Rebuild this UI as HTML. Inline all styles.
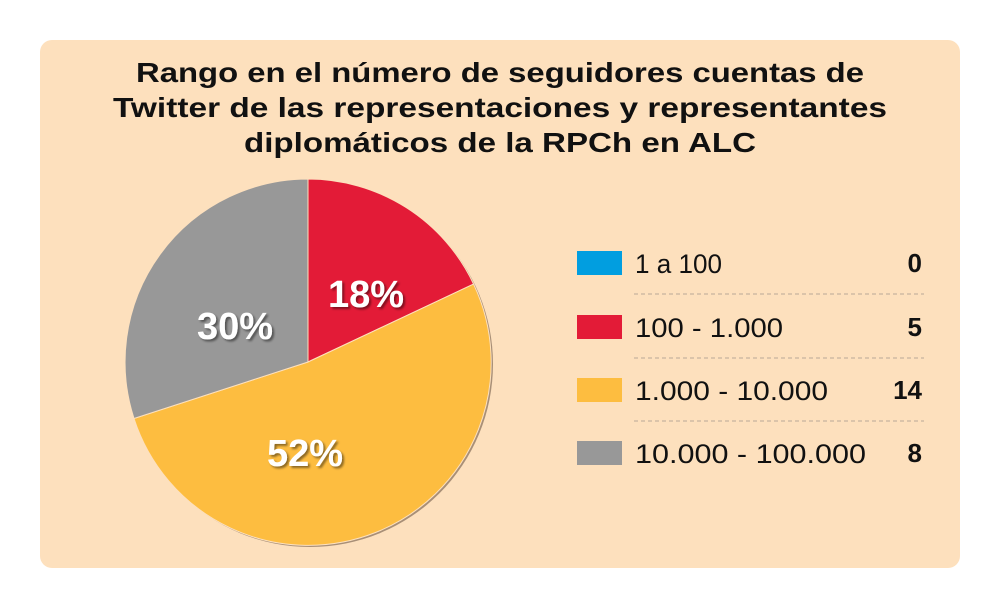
<!DOCTYPE html>
<html><head><meta charset="utf-8"><style>
html,body{margin:0;padding:0;background:#fff;}
svg{display:block;font-family:"Liberation Sans",sans-serif;}
</style></head><body>
<svg width="1000" height="608" viewBox="0 0 1000 608" xmlns="http://www.w3.org/2000/svg">
<defs>
<filter id="ts" x="-20%" y="-20%" width="140%" height="140%"><feDropShadow dx="2" dy="2" stdDeviation="1" flood-color="#000" flood-opacity="0.45"/></filter>
</defs>
<rect x="40" y="40" width="920" height="528" rx="12" fill="#fde0bd"/>
<g font-weight="bold" font-size="28" fill="#111" text-anchor="middle">
<text x="500" y="82" textLength="728" lengthAdjust="spacingAndGlyphs">Rango en el número de seguidores cuentas de</text>
<text x="500" y="117" textLength="774" lengthAdjust="spacingAndGlyphs">Twitter de las representaciones y representantes</text>
<text x="500" y="152" textLength="512" lengthAdjust="spacingAndGlyphs">diplomáticos de la RPCh en ALC</text>
</g>
<circle cx="310" cy="364" r="183" fill="#a88f77"/>
<path d="M308,362 L308,179 A183,183 0 0,1 473.6,284.1 Z" fill="#e31b37" stroke="#fde0bd" stroke-width="1"/>
<path d="M308,362 L473.6,284.1 A183,183 0 1,1 134,418.5 Z" fill="#fdbd40" stroke="#fde0bd" stroke-width="1"/>
<path d="M308,362 L134,418.5 A183,183 0 0,1 308,179 Z" fill="#989898" stroke="#fde0bd" stroke-width="1"/>
<g font-weight="bold" font-size="38" fill="#fff" text-anchor="middle" filter="url(#ts)">
<text x="366" y="307">18%</text>
<text x="235" y="339">30%</text>
<text x="305" y="466">52%</text>
</g>
<rect x="577" y="251" width="45" height="24" fill="#019ee0"/>
<rect x="577" y="315" width="45" height="24" fill="#e31b37"/>
<rect x="577" y="378" width="45" height="24" fill="#fdbd40"/>
<rect x="577" y="441" width="45" height="24" fill="#989898"/>
<g font-size="27" fill="#111">
<text x="635" y="273" textLength="87" lengthAdjust="spacingAndGlyphs">1 a 100</text>
<text x="635" y="337" textLength="148" lengthAdjust="spacingAndGlyphs">100 - 1.000</text>
<text x="635" y="400" textLength="193" lengthAdjust="spacingAndGlyphs">1.000 - 10.000</text>
<text x="635" y="463" textLength="231" lengthAdjust="spacingAndGlyphs">10.000 - 100.000</text>
</g>
<g font-size="26" font-weight="bold" fill="#111" text-anchor="end">
<text x="922" y="272">0</text>
<text x="922" y="336">5</text>
<text x="922" y="399">14</text>
<text x="922" y="462">8</text>
</g>
<g stroke="#b9a898" stroke-width="1" stroke-dasharray="4,3">
<line x1="634" y1="294" x2="924" y2="294"/>
<line x1="634" y1="358" x2="924" y2="358"/>
<line x1="634" y1="421" x2="924" y2="421"/>
</g>
</svg>
</body></html>
